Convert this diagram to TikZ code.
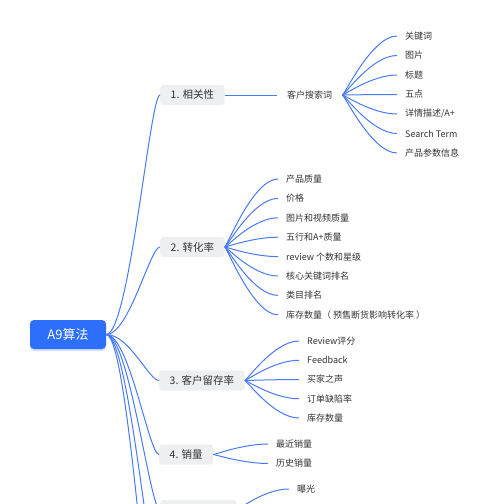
\documentclass[tikz,border=0pt]{standalone}
\usepackage{fontspec}
\setmainfont{Noto Sans CJK SC}
\usetikzlibrary{calc,shadows}
\definecolor{ink}{RGB}{51,51,51}
\definecolor{rootblue}{RGB}{45,110,250}
\definecolor{linkblue}{RGB}{72,122,244}
\definecolor{topicgray}{RGB}{238,239,241}
\tikzset{
  root/.style={fill=rootblue, rounded corners=4pt, text=white, inner sep=0pt,
    font=\fontsize{13}{15}\selectfont, minimum width=76pt, minimum height=29pt,
    drop shadow={shadow xshift=0pt, shadow yshift=-2pt, fill=rootblue!45, opacity=0.45}},
  topic/.style={fill=topicgray, rounded corners=3pt, text=ink, anchor=west,
    font=\fontsize{10.5}{12}\selectfont, inner xsep=10.5pt, minimum height=20pt},
  leaf/.style={text=ink, font=\fontsize{9}{11}\selectfont, inner xsep=8pt,
    inner ysep=2pt, anchor=west},
  sub/.style={leaf, inner xsep=10pt},
  link/.style={draw=linkblue, line width=1pt},
}
\begin{document}
\begin{tikzpicture}[x=1pt, y=-1pt]
  \useasboundingbox (0,0) rectangle (500,504);
  \clip (0,0) rectangle (500,504);
  % central topic and main branches
  \node[root] (a9) at (68,334.5) {A9算法};
  \node[topic] (t1) at (160,95) {1. 相关性};
  \node[topic] (t2) at (160,247) {2. 转化率};
  \node[topic] (t3) at (159,380.5) {3. 客户留存率};
  \node[topic] (t4) at (159,454.5) {4. 销量};
  \node[topic, minimum width=76pt] (t5) at (160,510) {};
  \coordinate (t6) at (160,590);
  \coordinate (t7) at (160,690);
  \foreach \t in {t1,t2,t3,t4,t5}
    \draw[link] (a9.east) .. controls +(23,0) and +(-10,0) .. (\t.west);
  \foreach \t in {t6,t7}
    \draw[link] (a9.east) .. controls +(23,0) and +(-10,0) .. (\t);
  % 1
  \node[sub] (kw) at (277,95) {客户搜索词};
  \draw[link] (t1.east) -- (kw.west);
  \foreach \s [count=\i] in {关键词,图片,标题,五点,详情描述/A+,Search Term,产品参数信息} {
    \node[leaf] (k\i) at (397, {36+(\i-1)*19.5}) {\s};
    \draw[link] (kw.east) .. controls +(2,0) and +(-25,0) .. (k\i.west);
  }
  % 2
  \foreach \s [count=\i] in {产品质量,价格,图片和视频质量,五行和A+质量,review 个数和星级,核心关键词排名,类目排名,库存数量（ 预售断货影响转化率 ）} {
    \node[leaf] (c\i) at (278, {179+(\i-1)*19.4}) {\s};
    \draw[link] (t2.east) .. controls +(2,0) and +(-25,0) .. (c\i.west);
  }
  % 3
  \foreach \s [count=\i] in {Review评分,Feedback,买家之声,订单缺陷率,库存数量} {
    \node[leaf] (r\i) at (299, {341+(\i-1)*19.25}) {\s};
    \draw[link] (t3.east) .. controls +(2,0) and +(-25,0) .. (r\i.west);
  }
  % 4
  \foreach \s [count=\i] in {最近销量,历史销量} {
    \node[leaf] (v\i) at (268, {444+(\i-1)*19.5}) {\s};
    \draw[link] (t4.east) .. controls +(2,0) and +(-25,0) .. (v\i.west);
  }
  % 5
  \node[leaf] (e1) at (289,489) {曝光};
  \draw[link] (t5.east) .. controls +(2,0) and +(-25,0) .. (e1.west);
\end{tikzpicture}
\end{document}
